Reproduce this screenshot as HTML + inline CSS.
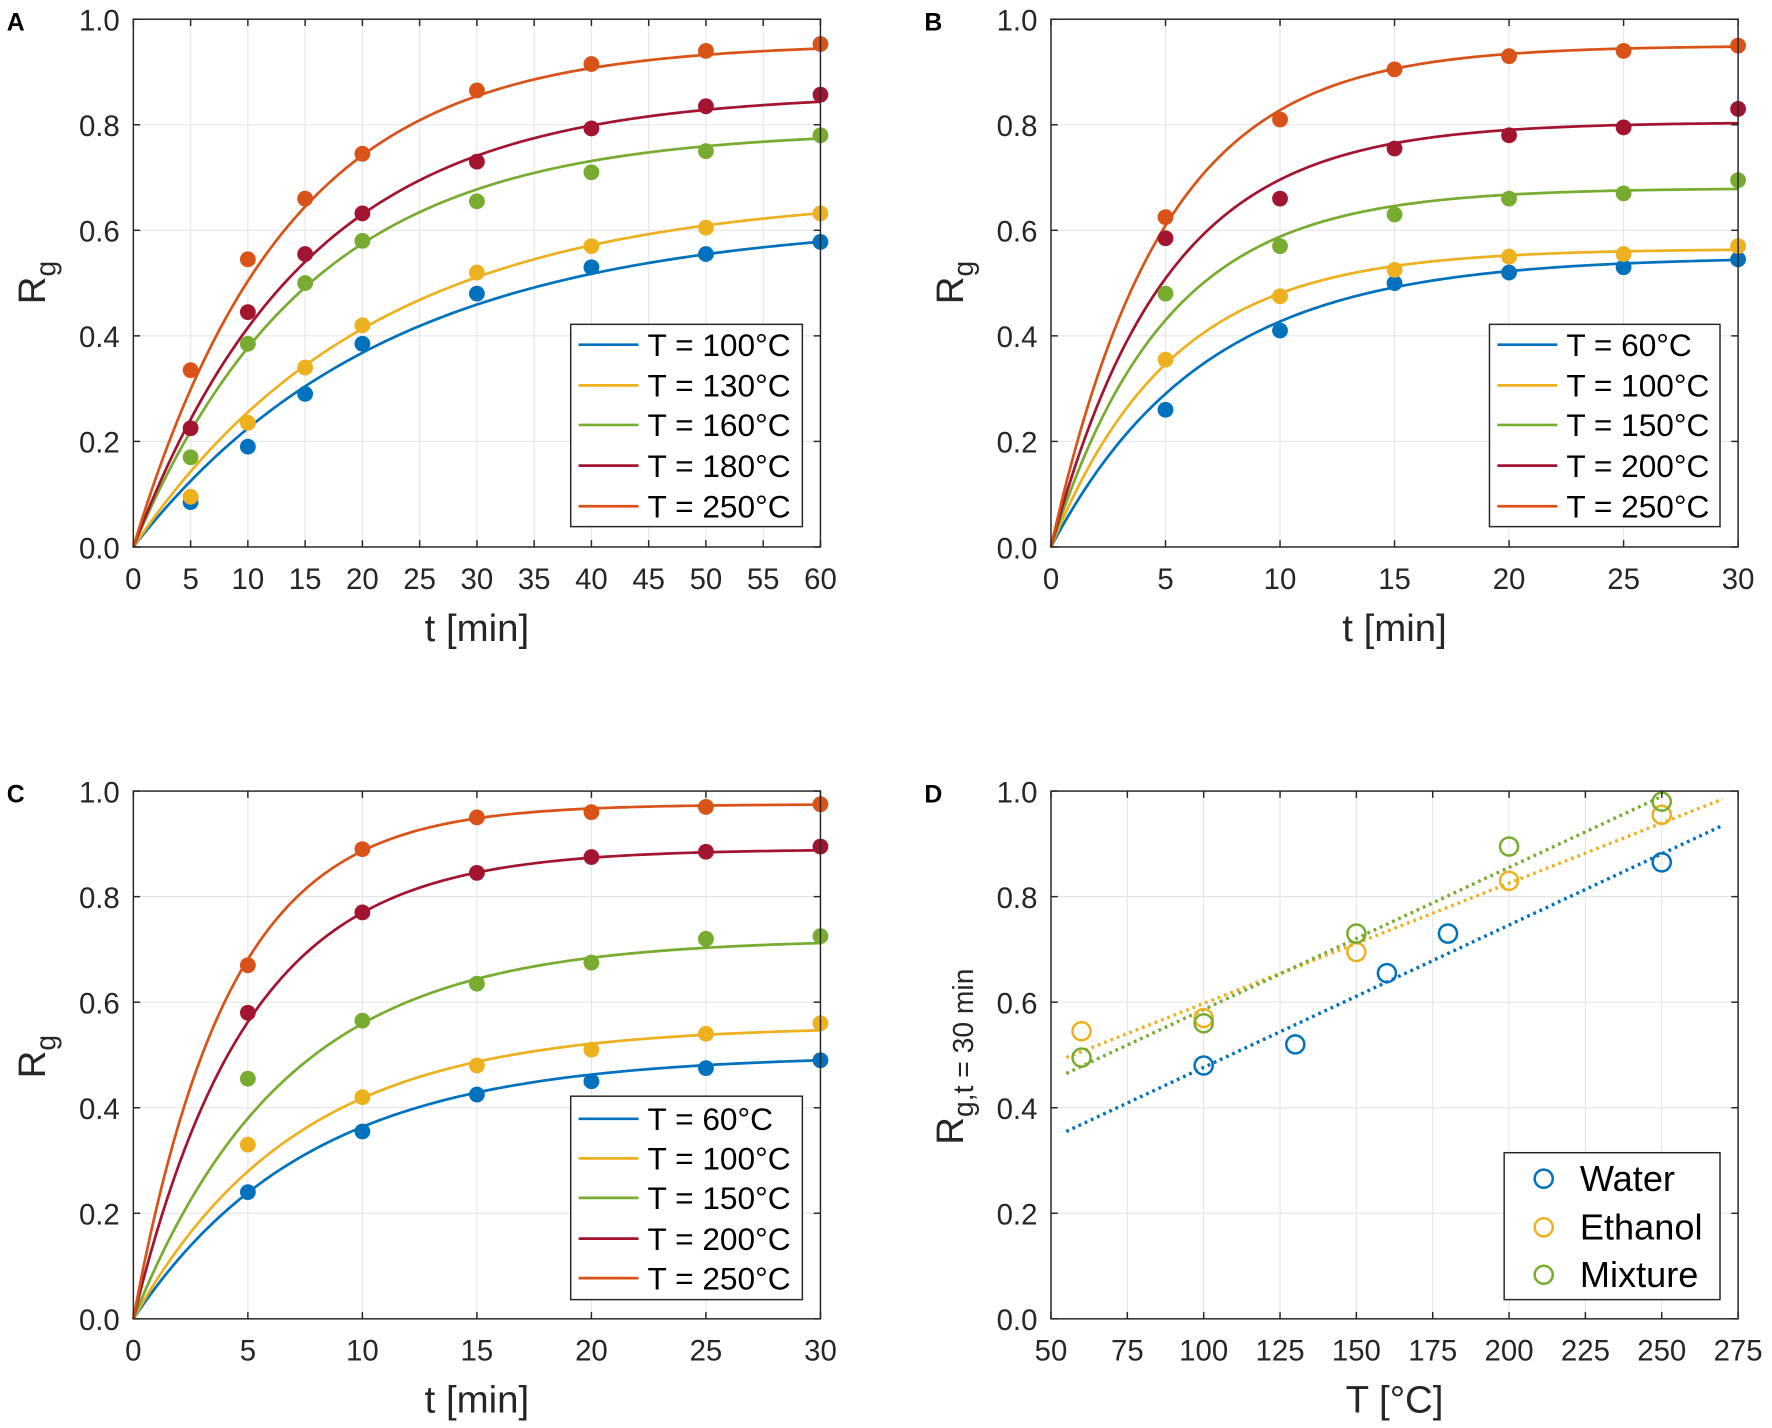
<!DOCTYPE html>
<html><head><meta charset="utf-8"><style>
html,body{margin:0;padding:0;background:#fff;}
svg{display:block;font-family:"Liberation Sans",Arial,sans-serif;}
</style></head><body>
<svg id="fig" width="1772" height="1428" viewBox="0 0 1568 1263.6" xmlns="http://www.w3.org/2000/svg"></svg>
<script>
// ---- Data ----
const colors = ['#0072BD','#EDB120','#77AC30','#A2142F','#D95319'];
const tA = [5,10,15,20,30,40,50,60];
const labelsA = ['T = 100°C','T = 130°C','T = 160°C','T = 180°C','T = 250°C'];
const valuesA = [
 [.085,.19,.29,.385,.48,.53,.555,.578],
 [.095,.235,.34,.42,.52,.57,.605,.632],
 [.17,.385,.50,.58,.655,.71,.75,.78],
 [.225,.445,.555,.632,.73,.793,.835,.857],
 [.335,.545,.66,.745,.865,.915,.94,.953]];
const rmaxA = [.62,.67,.79,.86,.955];
const kA = [.045,.048,.065,.066,.075];
const xticksA = [0,5,10,15,20,25,30,35,40,45,50,55,60];

const tB = [5,10,15,20,25,30];
const labelsB = ['T = 60°C','T = 100°C','T = 150°C','T = 200°C','T = 250°C'];
const valuesB = [
 [.26,.41,.50,.52,.53,.545],
 [.355,.475,.525,.55,.555,.57],
 [.48,.57,.63,.66,.67,.695],
 [.585,.66,.755,.78,.795,.83],
 [.625,.81,.905,.93,.94,.95]];
const rmaxB = [.55,.565,.68,.805,.95];
const kB = [.15,.19,.2,.2,.205];
const xticksB = [0,5,10,15,20,25,30];

const tC = [5,10,15,20,25,30];
const valuesC = [
 [.24,.355,.425,.45,.475,.49],
 [.33,.42,.48,.51,.54,.56],
 [.455,.565,.635,.675,.72,.725],
 [.58,.77,.845,.875,.885,.895],
 [.67,.89,.95,.96,.97,.975]];
const rmaxC = [.50,.555,.72,.89,.975];
const kC = [.13,.14,.15,.2,.24];

const labelsD = ['Water','Ethanol','Mixture'];
const tempsD = [[100,130,160,180,250],[60,100,150,200,250],[60,100,150,200,250]];
const valuesD = [[.48,.52,.655,.73,.865],[.545,.57,.695,.83,.955],[.495,.56,.73,.895,.98]];
const fitX0 = [55,55,55];
const fitX1 = [270,270,250];
const fitY0 = [.355,.495,.465];
const fitY1 = [.935,.985,.99];
const xticksD = [50,75,100,125,150,175,200,225,250,275];
const yticks = [0,0.2,0.4,0.6,0.8,1.0];

// ---- Drawing ----
const NS='http://www.w3.org/2000/svg';
const svg=document.getElementById('fig');
function mk(tag,attrs,parent){const e=document.createElementNS(NS,tag);for(const k in attrs)e.setAttribute(k,attrs[k]);(parent||svg).appendChild(e);return e;}
function txt(x,y,s,size,anchor,parent,extra){const e=mk('text',Object.assign({x:x,y:y,'font-size':size,'text-anchor':anchor||'middle',fill:'#262626'},extra||{}),parent);e.textContent=s;return e;}

function panel(o){
  const g=mk('g',{});
  
  
  const sx=v=>o.x0+(v-o.xmin)/(o.xmax-o.xmin)*(o.x1-o.x0);
  const sy=v=>o.y0-(v)/(1)*(o.y0-o.y1);
  o.xticks.forEach(v=>{const l=mk('line',{x1:sx(v),x2:sx(v),y1:o.y0,y2:o.y1,stroke:'#e6e6e6','stroke-width':1},g);});
  yticks.forEach(v=>{const l=mk('line',{x1:o.x0,x2:o.x1,y1:sy(v),y2:sy(v),stroke:'#e6e6e6','stroke-width':1},g);});
  const plot=mk('g',{},g);
  o.draw(plot,sx,sy);
  const box=mk('rect',{x:o.x0,y:o.y1,width:o.x1-o.x0,height:o.y0-o.y1,fill:'none',stroke:'#262626','stroke-width':1.3},g);
  
  o.xticks.forEach(v=>{
    mk('line',{x1:sx(v),x2:sx(v),y1:o.y0,y2:o.y0-6,stroke:'#262626','stroke-width':1.3},g);
    mk('line',{x1:sx(v),x2:sx(v),y1:o.y1,y2:o.y1+6,stroke:'#262626','stroke-width':1.3},g);
    const t=txt(sx(v),o.y0+37,String(v),26,'middle',g);
    
  });
  yticks.forEach(v=>{
    mk('line',{x1:o.x0,x2:o.x0+6,y1:sy(v),y2:sy(v),stroke:'#262626','stroke-width':1.3},g);
    mk('line',{x1:o.x1,x2:o.x1-6,y1:sy(v),y2:sy(v),stroke:'#262626','stroke-width':1.3},g);
    const t=txt(o.x0-12,sy(v)+10,v.toFixed(1),26,'end',g);
    
  });
  const xl=txt((o.x0+o.x1)/2,o.y0+83,o.xlabel,34,'middle',g);
  
  const yl=mk('text',{transform:`translate(${o.x0-78},${o.ylabY}) rotate(-90)`,'font-size':34,'text-anchor':'middle',fill:'#262626'},g);
  
  yl.innerHTML='R<tspan font-size="25" dy="9">'+o.ysub+'</tspan>';
  const pl=txt(o.x0-112,o.y1+10,o.letter,22,'start',g,{'font-weight':'bold',fill:'#000'});
  
  return {g,sx,sy};
}

function kinetic(p,sx,sy,ts,vals,rmax,k,tmax){
  vals.forEach((ser,i)=>{
    let d='';
    for(let j=0;j<=120;j++){const t=tmax*j/120;const r=rmax[i]*(1-Math.exp(-k[i]*t));d+=(j?'L':'M')+sx(t).toFixed(2)+','+sy(r).toFixed(2);}
    const path=mk('path',{d:d,fill:'none',stroke:colors[i],'stroke-width':2.4},p);
    
    
  });
  vals.forEach((ser,i)=>{
    ser.forEach((v,j)=>{
      const c=mk('circle',{cx:sx(ts[j]),cy:sy(v),r:7,fill:colors[i]},p);
      
      
    });
  });
}

function legend(x,y,w,h,labels,rowY,circle){
  const g=mk('g',{});
  
  
  mk('rect',{x:x,y:y,width:w,height:h,fill:'#fff',stroke:'#262626','stroke-width':1.3},g);
  labels.forEach((s,i)=>{
    const e=mk('g',{},g);
    
    
    if(circle){mk('circle',{cx:x+35,cy:rowY[i],r:8,fill:'none',stroke:colors[i],'stroke-width':2.2},e);
      txt(x+67,rowY[i]+11,s,32,'start',e,{fill:'#000'});}
    else{mk('line',{x1:x+7,x2:x+60,y1:rowY[i],y2:rowY[i],stroke:colors[i],'stroke-width':2.4},e);
      txt(x+68,rowY[i]+10,s,28,'start',e,{fill:'#000'});}
  });
}

panel({name:'panel-a',letter:'A',x0:118,x1:726,y0:484,y1:17,xmin:0,xmax:60,xticks:xticksA,xlabel:'t [min]',ysub:'g',ylabY:250,
  draw:(p,sx,sy)=>kinetic(p,sx,sy,tA,valuesA,rmaxA,kA,60)});
legend(505,287,205,179,labelsA,[305,341,376,412,448]);

panel({name:'panel-b',letter:'B',x0:930,x1:1538,y0:484,y1:17,xmin:0,xmax:30,xticks:xticksB,xlabel:'t [min]',ysub:'g',ylabY:250,
  draw:(p,sx,sy)=>kinetic(p,sx,sy,tB,valuesB,rmaxB,kB,30)});
legend(1318,287,204,179,labelsB,[305,341,376,412,448]);

panel({name:'panel-c',letter:'C',x0:118,x1:726,y0:1167,y1:700,xmin:0,xmax:30,xticks:xticksB,xlabel:'t [min]',ysub:'g',ylabY:935,
  draw:(p,sx,sy)=>kinetic(p,sx,sy,tC,valuesC,rmaxC,kC,30)});
legend(505,970,205,180,labelsB,[990,1025,1060,1096,1131]);

panel({name:'panel-d',letter:'D',x0:930,x1:1538,y0:1167,y1:700,xmin:50,xmax:275,xticks:xticksD,xlabel:'T [°C]',ysub:'g,t = 30 min',ylabY:935,
  draw:(p,sx,sy)=>{
    valuesD.forEach((ser,i)=>{
      const l=mk('line',{x1:sx(fitX0[i]),y1:sy(fitY0[i]),x2:sx(fitX1[i]),y2:sy(fitY1[i]),stroke:colors[i],'stroke-width':3,'stroke-dasharray':'2.5 3.5'},p);
      
      
    });
    valuesD.forEach((ser,i)=>{
      ser.forEach((v,j)=>{
        const c=mk('circle',{cx:sx(tempsD[i][j]),cy:sy(v),r:8,fill:'none',stroke:colors[i],'stroke-width':2.2},p);
        
        
      });
    });
  }});
legend(1331,1020,191,130,labelsD,[1043,1086,1128],true);
</script>
</body></html>
